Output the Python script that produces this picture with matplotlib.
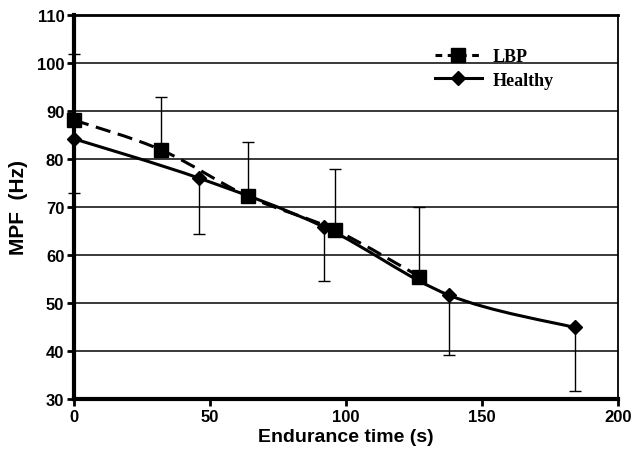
import matplotlib
matplotlib.use("Agg")
import matplotlib.pyplot as plt
from matplotlib.path import Path
from matplotlib.patches import PathPatch
from matplotlib.lines import Line2D

# data
lbp_t = [0, 32, 64, 96, 127]
lbp_mpf = [88.1, 81.9, 72.2, 65.2, 55.5]
lbp_sd = [13.7, 11.0, 11.3, 12.8, 14.5]

healthy_t = [0, 46, 92, 138, 184]
healthy_mpf = [84.2, 76.0, 65.8, 51.6, 44.9]
healthy_sd = [11.2, 11.6, 11.3, 12.5, 13.2]

yticks = [30, 40, 50, 60, 70, 80, 90, 100, 110]
xticks = [0, 50, 100, 150, 200]


def smooth_path(xs, ys):
    # Catmull-Rom style smoothing like Excel's "smoothed line"
    verts = [(xs[0], ys[0])]
    codes = [Path.MOVETO]
    n = len(xs)
    for i in range(n - 1):
        x0, y0 = (xs[i - 1], ys[i - 1]) if i > 0 else (xs[i], ys[i])
        x1, y1 = xs[i], ys[i]
        x2, y2 = xs[i + 1], ys[i + 1]
        x3, y3 = (xs[i + 2], ys[i + 2]) if i + 2 < n else (x2, y2)
        c1 = (x1 + (x2 - x0) / 6, y1 + (y2 - y0) / 6)
        c2 = (x2 - (x3 - x1) / 6, y2 - (y3 - y1) / 6)
        verts += [c1, c2, (x2, y2)]
        codes += [Path.CURVE4] * 3
    return Path(verts, codes)


plt.rcParams['font.family'] = ['Liberation Sans', 'DejaVu Sans']
plt.rcParams['font.weight'] = 'bold'

fig = plt.figure(figsize=(6.34, 4.56), dpi=100)
ax = fig.add_axes([0.1167, 0.1228, 0.8581, 0.8422])

for y in yticks[1:-1]:
    ax.axhline(y, color='#2a2a2a', lw=1.3, zorder=1)

# error bars: LBP upward, healthy downward
ax.errorbar(lbp_t, lbp_mpf, yerr=[[0] * len(lbp_sd), lbp_sd], fmt='none',
            ecolor='black', elinewidth=1, capsize=4, capthick=1, zorder=2,
            clip_on=False)
ax.errorbar(healthy_t, healthy_mpf, yerr=[healthy_sd, [0] * len(healthy_sd)], fmt='none',
            ecolor='black', elinewidth=1, capsize=4, capthick=1, zorder=2,
            clip_on=False)

ax.add_patch(PathPatch(smooth_path(lbp_t, lbp_mpf), fill=False, ec='black', lw=2.2,
                       linestyle=(0, (5, 2.5)), zorder=3))
ax.add_patch(PathPatch(smooth_path(healthy_t, healthy_mpf), fill=False, ec='black', lw=2.2,
                       zorder=3))
ax.plot(lbp_t, lbp_mpf, ls='none', marker='s', ms=9.5, color='black', zorder=4, clip_on=False)
ax.plot(healthy_t, healthy_mpf, ls='none', marker='D', ms=7.5, color='black', zorder=4,
        clip_on=False)

ax.set_xlim(0, 200)
ax.set_ylim(30, 110)
ax.set_xticks(xticks)
ax.set_yticks(yticks)
ax.tick_params(direction='out', length=5, width=2, labelsize=12, pad=2)
for lab in ax.get_xticklabels() + ax.get_yticklabels():
    lab.set_fontweight('bold')
for s in ['left', 'bottom']:
    ax.spines[s].set_linewidth(3)
ax.spines['top'].set_linewidth(2)
ax.spines['right'].set_linewidth(1.3)

ax.set_xlabel('Endurance time (s)', fontsize=14, fontweight='bold', labelpad=3)
ax.set_ylabel('MPF  (Hz)', fontsize=15, fontweight='bold', labelpad=6)

handles = [
    Line2D([], [], color='black', lw=2.2, ls=(0, (2.2, 1.8)), marker='s', ms=9.5),
    Line2D([], [], color='black', lw=2.2, marker='D', ms=7.5),
]
ax.legend(handles, ['LBP', 'Healthy'], loc='upper left', bbox_to_anchor=(0.633, 0.955),
          frameon=False, handlelength=2.6, handletextpad=0.6, labelspacing=0.35,
          prop={'family': 'Liberation Serif', 'weight': 'bold', 'size': 13})

fig.savefig('out.png', dpi=100)
